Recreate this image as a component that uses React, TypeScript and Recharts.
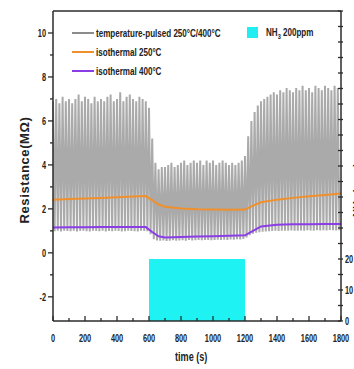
import React from "react";
import {
  ComposedChart,
  Line,
  Area,
  XAxis,
  YAxis,
  ReferenceLine,
} from "recharts";

// pulsed sensor: peak values (t = 0, 20, 40 ... 1780 s)
const PULSE_HIGH = [
  6.9, 7.0, 6.8, 7.1, 6.9, 7.0, 6.8, 7.0, 7.2, 6.9, 7.1, 7.0, 6.8, 7.1, 6.9,
  7.0, 6.9, 7.1, 7.2, 6.9, 7.0, 7.3, 6.9, 7.1, 7.2, 7.0, 6.9, 7.1, 7.0, 6.9,
  6.6, 5.2, 4.1, 3.8, 3.9, 3.9, 4.0, 4.1, 3.9, 4.0, 4.1, 4.2, 4.0, 4.1, 4.2,
  4.1, 4.2, 4.0, 4.2, 4.1, 4.2, 4.0, 4.1, 4.2, 4.1, 4.0, 4.1, 4.0, 4.1, 4.2,
  4.4, 5.3, 6.0, 6.4, 6.7, 6.9, 7.0, 7.1, 7.2, 7.3, 7.2, 7.4, 7.3, 7.5, 7.4,
  7.3, 7.5, 7.4, 7.6, 7.4, 7.5, 7.3, 7.6, 7.5, 7.4, 7.6, 7.5, 7.4, 7.6, 7.5,
];

// pulsed sensor: low values (t = 10, 30, 50 ... 1790 s)
const PULSE_LOW = [
  0.98, 1.0, 0.97, 1.0, 0.99, 0.98, 1.0, 0.97, 0.99, 1.0, 0.98, 0.97, 1.0, 0.99, 0.98,
  1.0, 0.97, 0.99, 0.98, 1.0, 0.99, 0.97, 0.98, 1.0, 0.99, 0.98, 0.97, 1.0, 0.99, 0.98,
  0.85, 0.62, 0.56, 0.55, 0.56, 0.54, 0.55, 0.57, 0.55, 0.56, 0.57, 0.55, 0.58, 0.56, 0.57,
  0.58, 0.57, 0.59, 0.58, 0.57, 0.59, 0.6, 0.58, 0.6, 0.59, 0.61, 0.6, 0.62, 0.61, 0.63,
  0.7, 0.8, 0.87, 0.91, 0.94, 0.96, 0.97, 0.98, 0.99, 1.0, 0.99, 1.0, 1.01, 1.0, 1.02,
  1.01, 1.0, 1.02, 1.01, 1.03, 1.02, 1.01, 1.03, 1.02, 1.03, 1.02, 1.04, 1.03, 1.02, 1.03,
];

const ISO_TIME = [0, 100, 200, 300, 400, 500, 580, 620, 660, 700, 800, 900, 1000, 1100, 1200, 1250, 1300, 1400, 1500, 1600, 1700, 1800];
const ISO_250 = [2.42, 2.45, 2.47, 2.5, 2.53, 2.56, 2.58, 2.4, 2.2, 2.1, 2.02, 1.98, 1.97, 1.96, 1.97, 2.15, 2.3, 2.42, 2.5, 2.57, 2.63, 2.7];
const ISO_400 = [1.15, 1.16, 1.16, 1.17, 1.17, 1.17, 1.17, 0.95, 0.75, 0.7, 0.72, 0.74, 0.76, 0.78, 0.8, 1.0, 1.2, 1.28, 1.3, 1.3, 1.31, 1.31];

const NH3_TIME = [0, 600, 1200, 1800];
const NH3_PPM = [0, 20, 0, 0];

const X_TICKS = [0, 100, 200, 300, 400, 500, 600, 700, 800, 900, 1000, 1100, 1200, 1300, 1400, 1500, 1600, 1700, 1800];
const Y_TICKS = [-2, -1, 0, 1, 2, 3, 4, 5, 6, 7, 8, 9, 10];
const NH3_TICKS = [0, 5, 10, 15, 20, 25, 30, 35, 40, 45, 50, 55, 60, 65, 70, 75, 80, 85, 90, 95, 100];
const NH3_LABELS = [0, 10, 20];

const pulseData: { t: number; r: number }[] = [];
PULSE_HIGH.forEach((v, i) => {
  pulseData.push({ t: i * 20, r: v });
  pulseData.push({ t: i * 20 + 10, r: PULSE_LOW[i] });
});
const iso250Data = ISO_TIME.map((t, i) => ({ t, r: ISO_250[i] }));
const iso400Data = ISO_TIME.map((t, i) => ({ t, r: ISO_400[i] }));
const nh3Data = NH3_TIME.map((t, i) => ({ t, c: NH3_PPM[i] }));

const FONT = "'Liberation Sans',Arial,sans-serif";
const AXIS = "#2b2b2b";
const NARROW = 0.7; // the original uses a condensed face

const TickText = ({ x, y, anchor, children }: any) => (
  <text
    transform={`translate(${x},${y}) scale(${NARROW},1)`}
    textAnchor={anchor}
    fontSize={10.5}
    fontWeight={700}
    fontFamily={FONT}
    fill="#222"
  >
    {children}
  </text>
);

const LeftTick = (props: any) => {
  const { x, y, payload } = props;
  const major = payload.value % 2 === 0;
  return (
    <g>
      <line x1={x} x2={x - (major ? 5 : 3)} y1={y} y2={y} stroke={AXIS} strokeWidth={1.3} />
      {major && (
        <TickText x={x - 7} y={y + 4} anchor="end">
          {payload.value}
        </TickText>
      )}
    </g>
  );
};

const BottomTick = (props: any) => {
  const { x, y, payload } = props;
  const major = payload.value % 200 === 0;
  return (
    <g>
      <line x1={x} x2={x} y1={y} y2={y - (major ? 5 : 3)} stroke={AXIS} strokeWidth={1.3} />
      {major && (
        <TickText x={x} y={y + 21} anchor="middle">
          {payload.value}
        </TickText>
      )}
    </g>
  );
};

const RightTick = (props: any) => {
  const { x, y, payload } = props;
  return (
    <g>
      <line x1={x - 3} x2={x + 2} y1={y} y2={y} stroke={AXIS} strokeWidth={1.3} />
      {NH3_LABELS.includes(payload.value) && (
        <TickText x={x + 4} y={y + 4} anchor="start">
          {payload.value}
        </TickText>
      )}
    </g>
  );
};

const legendText: React.CSSProperties = {
  position: "absolute",
  fontFamily: FONT,
  fontWeight: 700,
  fontSize: 11.5,
  color: "#222",
  whiteSpace: "nowrap",
  lineHeight: "12px",
  transform: `scaleX(${NARROW})`,
  transformOrigin: "left center",
};

export default function App() {
  return (
    <div style={{ position: "absolute", left: 0, top: 0, width: 354, height: 369, background: "#fff", overflow: "hidden" }}>
      <ComposedChart width={354} height={369} margin={{ top: 11, right: 0, bottom: 0, left: 0 }}>
        <XAxis
          dataKey="t"
          type="number"
          domain={[0, 1800]}
          ticks={X_TICKS}
          interval={0}
          allowDuplicatedCategory={false}
          height={48}
          tickSize={0}
          tickMargin={0}
          tickLine={false}
          tick={<BottomTick />}
          axisLine={{ stroke: AXIS, strokeWidth: 1.5 }}
        />
        <YAxis
          yAxisId="left"
          type="number"
          domain={[-3.1, 11]}
          ticks={Y_TICKS}
          interval={0}
          width={53}
          tickSize={0}
          tickMargin={0}
          tickLine={false}
          tick={<LeftTick />}
          axisLine={{ stroke: AXIS, strokeWidth: 1.5 }}
        />
        <YAxis
          yAxisId="right"
          orientation="right"
          type="number"
          domain={[0, 100]}
          ticks={NH3_TICKS}
          interval={0}
          width={13}
          tickSize={0}
          tickMargin={0}
          tickLine={false}
          tick={<RightTick />}
          axisLine={{ stroke: AXIS, strokeWidth: 1.5 }}
        />
        <ReferenceLine yAxisId="left" y={11} stroke={AXIS} strokeWidth={1.5} />
        <Area
          yAxisId="right"
          data={nh3Data}
          dataKey="c"
          type="stepAfter"
          stroke="none"
          fill="#1ff2f2"
          fillOpacity={1}
          isAnimationActive={false}
          dot={false}
          activeDot={false}
        />
        <Line
          yAxisId="left"
          data={pulseData}
          dataKey="r"
          type="linear"
          stroke="#aaaaaa"
          strokeWidth={2}
          dot={false}
          activeDot={false}
          isAnimationActive={false}
        />
        <Line
          yAxisId="left"
          data={iso250Data}
          dataKey="r"
          type="linear"
          stroke="#f0902c"
          strokeWidth={2}
          dot={false}
          activeDot={false}
          isAnimationActive={false}
        />
        <Line
          yAxisId="left"
          data={iso400Data}
          dataKey="r"
          type="linear"
          stroke="#8b3ee6"
          strokeWidth={2}
          dot={false}
          activeDot={false}
          isAnimationActive={false}
        />
      </ComposedChart>

      {/* legend */}
      <div style={{ position: "absolute", left: 72, top: 32, width: 22, height: 1.5, background: "#8c8c8c" }} />
      <div style={{ ...legendText, left: 96, top: 27 }}>temperature-pulsed 250°C/400°C</div>
      <div style={{ position: "absolute", left: 72, top: 51, width: 22, height: 1.5, background: "#f0902c" }} />
      <div style={{ ...legendText, left: 96, top: 46 }}>isothermal 250°C</div>
      <div style={{ position: "absolute", left: 72, top: 70, width: 22, height: 1.5, background: "#8b3ee6" }} />
      <div style={{ ...legendText, left: 96, top: 65 }}>isothermal 400°C</div>
      <div style={{ position: "absolute", left: 247, top: 27, width: 11, height: 11, background: "#22eef2" }} />
      <div style={{ ...legendText, left: 266, top: 26 }}>
        NH<sub style={{ fontSize: 8, lineHeight: 0 }}>3</sub> 200ppm
      </div>

      {/* axis titles */}
      <div
        style={{
          position: "absolute",
          left: 24,
          top: 170,
          transform: "translate(-50%, -50%) rotate(-90deg)",
          fontFamily: FONT,
          fontWeight: 700,
          fontSize: 13,
          letterSpacing: 0.6,
          color: "#222",
          whiteSpace: "nowrap",
        }}
      >
        Resistance(MΩ)
      </div>
      <div style={{ ...legendText, left: 175, top: 351, fontSize: 13 }}>time (s)</div>
      <div
        style={{
          position: "absolute",
          left: 357,
          top: 190,
          transform: "translate(-50%, -50%) rotate(-90deg)",
          fontFamily: FONT,
          fontWeight: 700,
          fontSize: 11,
          color: "#222",
          whiteSpace: "nowrap",
        }}
      >
        NH<sub style={{ fontSize: 8, lineHeight: 0 }}>3</sub> (ppm)
      </div>
    </div>
  );
}
